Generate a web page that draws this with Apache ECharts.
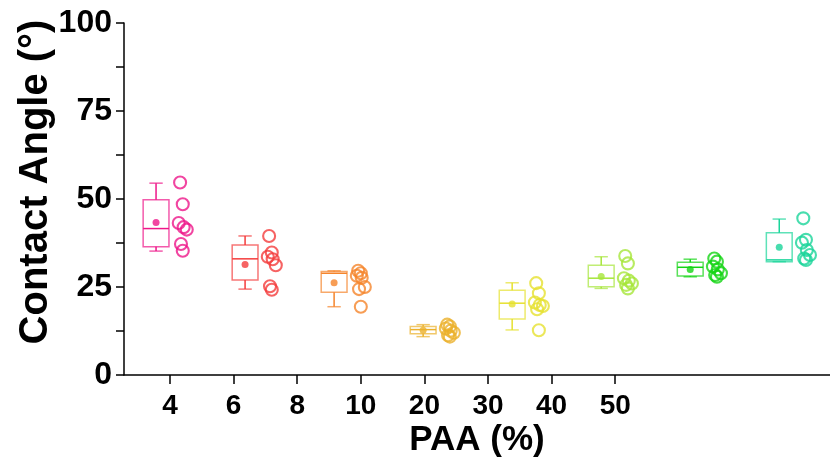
<!DOCTYPE html>
<html>
<head>
<meta charset="utf-8">
<script src="https://cdn.jsdelivr.net/npm/echarts@6/dist/echarts.min.js"></script>
<style>
  html, body { margin: 0; padding: 0; background: #fff; }
  #chart { width: 830px; height: 461px; }
</style>
</head>
<body>
<div id="chart"></div>
<script>
// PAA concentration groups (tick labels)
const categories = ['4', '6', '8', '10', '20', '30', '40', '50'];

// Box statistics per group (contact angle, degrees)
const whiskerLow  = [35.2, 24.4, 19.4, 10.9, 12.8, 24.6, 27.9, 32.2];
const quartile1   = [36.4, 27.0, 23.5, 11.7, 15.9, 25.1, 28.1, 32.2];
const medians     = [41.6, 33.0, 28.9, 12.9, 20.4, 27.5, 30.6, 32.7];
const quartile3   = [49.8, 36.9, 29.4, 13.8, 24.1, 31.2, 32.0, 40.4];
const whiskerHigh = [54.5, 39.5, 29.6, 14.3, 26.2, 33.6, 32.9, 44.3];
const means       = [43.3, 31.4, 26.2, 12.7, 20.2, 28.0, 30.0, 36.3];

// Individual measurements per group
const paa4  = [54.7, 48.5, 43.2, 42.0, 41.3, 37.2, 35.3];
const paa6  = [39.5, 34.8, 33.6, 32.9, 31.2, 25.2, 24.2];
const paa8  = [29.6, 28.9, 28.2, 27.6, 25.0, 24.4, 19.4];
const paa10 = [14.3, 13.8, 13.2, 12.6, 12.0, 11.3, 10.9];
const paa20 = [26.1, 23.2, 20.6, 19.9, 19.6, 18.7, 12.7];
const paa30 = [33.8, 31.7, 27.5, 26.8, 26.0, 25.6, 24.6];
const paa40 = [33.1, 32.2, 30.8, 30.0, 28.9, 28.4, 27.9];
const paa50 = [44.5, 38.4, 37.6, 35.5, 34.1, 33.1, 32.7];
const measurements = [paa4, paa6, paa8, paa10, paa20, paa30, paa40, paa50];

// Y axis tick values
const yTicks = [0, 25, 50, 75, 100];

// Styling
const colors = ['#EE1689', '#F43C3C', '#F5842B', '#EBB02A', '#E6E12F', '#A6E63A', '#14D414', '#1AD59A'];
const BOX_OFFSET = -0.14;     // box sits left of the group centre
const POINT_OFFSET = 0.15;    // raw points sit right of it
const BOX_WIDTH = 0.29;
const CAP_WIDTH = 0.15;
const SPREAD = [-0.02, 0.01, -0.035, 0.02, 0.055, -0.01, 0.01];
const FONT = '"Liberation Sans", Arial, sans-serif';

const GRID_LEFT = 124, GRID_TOP = 23, GRID_BOTTOM = 86;

function boxItem(params, api) {
  const i = api.value(0);
  const x = i + BOX_OFFSET;
  const half = api.size([BOX_WIDTH, 0])[0] / 2;
  const capHalf = api.size([CAP_WIDTH, 0])[0] / 2;
  const pLow = api.coord([x, api.value(1)]);
  const pQ1 = api.coord([x, api.value(2)]);
  const pMed = api.coord([x, api.value(3)]);
  const pQ3 = api.coord([x, api.value(4)]);
  const pHigh = api.coord([x, api.value(5)]);
  const c = colors[i];
  const faint = { stroke: c, fill: null, lineWidth: 1.5, opacity: 0.7 };
  const solid = { stroke: c, fill: null, lineWidth: 1.5 };
  const cx = pQ1[0];
  return {
    type: 'group',
    children: [
      { type: 'rect', shape: { x: cx - half, y: pQ3[1], width: half * 2, height: pQ1[1] - pQ3[1] }, style: faint },
      { type: 'line', shape: { x1: cx, y1: pQ3[1], x2: cx, y2: pHigh[1] }, style: solid },
      { type: 'line', shape: { x1: cx, y1: pQ1[1], x2: cx, y2: pLow[1] }, style: solid },
      { type: 'line', shape: { x1: cx - capHalf, y1: pHigh[1], x2: cx + capHalf, y2: pHigh[1] }, style: faint },
      { type: 'line', shape: { x1: cx - capHalf, y1: pLow[1], x2: cx + capHalf, y2: pLow[1] }, style: faint },
      { type: 'line', shape: { x1: cx - half, y1: pMed[1], x2: cx + half, y2: pMed[1] }, style: solid }
    ]
  };
}

const boxData = categories.map((_, i) =>
  [i, whiskerLow[i], quartile1[i], medians[i], quartile3[i], whiskerHigh[i]]);

const meanData = categories.map((_, i) => ({
  value: [i + BOX_OFFSET, means[i]],
  itemStyle: { color: colors[i] }
}));

const pointData = [];
measurements.forEach((vals, i) => {
  vals.forEach((v, k) => {
    pointData.push({
      value: [i + POINT_OFFSET + SPREAD[k % SPREAD.length], v],
      itemStyle: { color: 'rgba(255,255,255,0)', borderColor: colors[i], borderWidth: 2.1 }
    });
  });
});

const chart = echarts.init(document.getElementById('chart'), null, { renderer: 'canvas' });

chart.setOption({
  animation: false,
  backgroundColor: '#ffffff',
  grid: [
    { left: GRID_LEFT, right: 0, top: GRID_TOP, bottom: GRID_BOTTOM, containLabel: false, outerBoundsMode: 'none' },
    { left: 138.2, width: 508.8, top: GRID_TOP, bottom: GRID_BOTTOM, containLabel: false, outerBoundsMode: 'none' }
  ],
  xAxis: [
    {
      type: 'value', gridIndex: 0, min: -0.5, max: 7.43,
      axisLine: { show: true, onZero: false, lineStyle: { color: '#000', width: 1.5 } },
      axisTick: { show: false }, axisLabel: { show: false }, splitLine: { show: false },
      name: 'PAA (%)', nameLocation: 'middle', nameGap: 48, nameMoveOverlap: false,
      nameTextStyle: { fontFamily: FONT, fontWeight: 'bold', fontSize: 35, color: '#000' }
    },
    {
      type: 'category', gridIndex: 1, data: categories, boundaryGap: true,
      axisLine: { show: false, onZero: false },
      axisTick: { show: true, alignWithLabel: true, inside: false, length: 9, lineStyle: { color: '#000', width: 1.5 } },
      axisLabel: { fontFamily: FONT, fontWeight: 'bold', fontSize: 28, color: '#000', margin: 17 },
      splitLine: { show: false }
    }
  ],
  yAxis: [
    {
      type: 'value', gridIndex: 0, min: 0, max: 100, interval: 25,
      axisLine: { show: true, onZero: false, lineStyle: { color: '#000', width: 1.5 } },
      axisTick: { show: true, inside: false, length: 8, lineStyle: { color: '#000', width: 1.5 } },
      minorTick: { show: true, splitNumber: 2, length: 8, lineStyle: { color: '#000', width: 1.5 } },
      axisLabel: {
        fontFamily: FONT, fontWeight: 'bold', fontSize: 32, color: '#000', margin: 12,
        formatter: v => (yTicks.indexOf(v) >= 0 ? String(v) : '')
      },
      splitLine: { show: false },
      name: 'Contact Angle (°)', nameLocation: 'middle', nameGap: 68, nameRotate: 90, nameMoveOverlap: false,
      nameTextStyle: { fontFamily: FONT, fontWeight: 'bold', fontSize: 40, color: '#000', padding: [0, 0, 0, 34] }
    },
    {
      type: 'value', gridIndex: 1, min: 0, max: 100, show: false
    }
  ],
  series: [
    {
      type: 'custom', xAxisIndex: 0, yAxisIndex: 0,
      renderItem: boxItem,
      encode: { x: 0, y: [1, 2, 3, 4, 5] },
      data: boxData, z: 2
    },
    {
      type: 'scatter', xAxisIndex: 0, yAxisIndex: 0,
      symbol: 'circle', symbolSize: 7, data: meanData, z: 3
    },
    {
      type: 'scatter', xAxisIndex: 0, yAxisIndex: 0,
      symbol: 'circle', symbolSize: 12, data: pointData, z: 4
    }
  ]
});
</script>
</body>
</html>
